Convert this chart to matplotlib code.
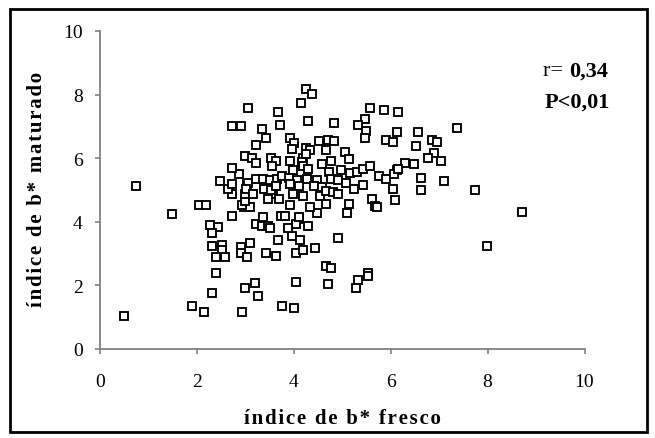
import matplotlib
matplotlib.use("Agg")
import matplotlib.pyplot as plt
from matplotlib.patches import Rectangle

# Data (índice de b* fresco, índice de b* maturado)
fresco = [
    0.50, 0.75, 1.49, 1.90, 2.15, 2.32, 2.40, 2.94, 3.00, 3.19, 3.27, 3.76, 4.01, 4.05,
    4.71, 4.67, 4.76, 5.33, 5.29, 5.54, 5.54, 4.92, 7.98, 8.72, 7.73, 2.04, 2.19, 2.73,
    2.28, 2.43, 2.32, 2.32, 2.52, 2.52, 2.40, 2.57, 2.90, 2.90, 3.03, 3.09, 3.43, 3.64,
    4.05, 4.18, 4.43, 3.96, 4.12, 3.68, 3.36, 3.23, 3.34, 3.46, 3.50, 4.10, 4.05, 3.89,
    4.30, 3.36, 3.74, 3.82, 4.10, 4.48, 5.09, 2.98, 3.10, 2.94, 3.00, 3.00, 2.73, 2.65,
    2.73, 2.48, 3.03, 2.86, 2.73, 3.00, 2.73, 2.90, 3.06,
    4.26, 4.38, 4.14, 3.68, 5.58, 5.87, 6.16, 4.30, 4.84, 3.72, 5.46, 5.33, 5.50, 5.46,
    3.35, 3.43, 6.12, 5.91, 6.04, 3.23, 3.93, 4.00, 3.97, 4.51, 4.71, 4.84, 4.26, 4.34,
    4.67, 5.05, 5.13, 3.14, 3.23, 3.52, 3.64, 3.56, 4.19, 4.26, 4.16, 3.93, 4.59, 4.76,
    3.98, 4.19, 4.30, 4.73, 4.98, 5.15, 5.31, 5.43, 5.57, 5.75, 5.91, 6.12, 6.06, 3.06,
    3.23, 3.36, 3.50, 3.65, 3.76, 3.90, 4.07, 4.27, 4.47, 4.76, 4.92, 5.07, 3.93, 4.11,
    4.41, 4.58, 5.42, 5.25, 6.04, 3.02, 3.16, 3.38, 3.57, 3.69, 3.98, 4.20, 4.54, 4.67,
    4.80, 4.92, 3.93, 4.34, 4.67, 5.13, 5.62, 5.67, 5.71, 6.08, 3.52, 3.64, 3.46,
    7.36, 6.57, 6.53, 6.86, 6.96, 6.90, 6.78, 7.03, 6.29, 6.49, 6.16, 6.62, 7.11, 6.62,
]
maturado = [
    1.05, 5.14, 4.25, 1.36, 1.17, 1.75, 2.39, 1.17, 1.93, 2.08, 1.68, 1.36, 1.30, 2.12,
    2.05, 2.62, 2.56, 2.18, 1.93, 2.39, 2.30, 3.50, 3.25, 4.32, 5.01, 4.53, 4.53, 4.19,
    3.90, 3.83, 3.65, 3.25, 3.27, 3.12, 2.88, 2.88, 3.20, 3.02, 2.88, 3.32, 3.02, 2.93,
    3.02, 3.12, 3.19, 3.56, 3.44, 3.44, 4.09, 3.94, 3.88, 3.88, 3.81, 4.09, 3.94, 3.81,
    3.88, 4.15, 4.19, 4.19, 4.15, 4.28, 4.28, 4.46, 4.46, 4.53, 4.66, 4.87, 4.88, 5.03,
    5.20, 5.28, 5.20, 5.51, 5.70, 6.08, 7.02, 7.02, 7.59,
    8.18, 8.03, 7.74, 7.46, 7.59, 7.52, 7.46, 7.17, 7.11, 7.04, 7.23, 7.04, 6.86, 6.64,
    6.92, 6.64, 6.81, 6.58, 6.52, 6.42, 6.64, 6.48, 6.29, 6.54, 6.58, 6.54, 6.33, 6.27,
    6.27, 6.20, 5.97, 6.02, 5.85, 6.02, 5.91, 5.76, 6.02, 6.12, 5.87, 5.91, 5.83, 5.91,
    5.64, 5.74, 5.66, 5.58, 5.64, 5.53, 5.58, 5.66, 5.74, 5.45, 5.35, 5.62, 5.49, 5.23,
    5.35, 5.35, 5.30, 5.35, 5.45, 5.39, 5.30, 5.35, 5.30, 5.35, 5.30, 5.22, 5.18, 5.14,
    5.14, 5.09, 5.16, 5.03, 5.03, 5.03, 4.88, 5.03, 4.88, 4.72, 4.88, 4.82, 4.82, 4.97,
    4.93, 4.88, 4.53, 4.47, 4.57, 4.55, 4.72, 4.51, 4.45, 4.69, 5.00, 5.14, 4.72,
    6.96, 6.83, 6.39, 6.58, 6.52, 6.16, 6.02, 5.91, 5.85, 5.83, 5.66, 5.39, 5.28, 5.01,
]
x_ticks = [0, 2, 4, 6, 8, 10]
y_ticks = [0, 2, 4, 6, 8, 10]
x_label = "índice de b* fresco"
y_label = "índice de b* maturado"
r_value = "0,34"
p_text = "P<0,01"

W, H = 655, 439
plt.rcParams['font.family'] = ['Liberation Serif', 'DejaVu Serif']
fig = plt.figure(figsize=(W / 100, H / 100), dpi=100)

ax = fig.add_axes([100 / W, 1 - 350 / H, (584.5 - 100) / W, (350 - 32) / H])
ax.plot(fresco, maturado, linestyle='none', marker='s', markersize=5.4,
        markerfacecolor='white', markeredgecolor='black', markeredgewidth=1.35,
        clip_on=False, zorder=3)

ax.set_xlim(0, 10)
ax.set_ylim(0, 10)
ax.set_xticks(x_ticks)
ax.set_yticks(y_ticks)
ax.set_xticklabels([str(t) for t in x_ticks])
ax.set_yticklabels([str(t) for t in y_ticks])
for s in ['top', 'right']:
    ax.spines[s].set_visible(False)
for s in ['left', 'bottom']:
    ax.spines[s].set_color('#808080')
    ax.spines[s].set_linewidth(1.3)
ax.tick_params(axis='both', direction='out', length=3.6, width=1.2, color='#808080',
               labelsize=14, labelcolor='black')
ax.tick_params(axis='x', pad=14)
ax.tick_params(axis='y', pad=9)


def spaced(s):
    return "\u200a".join(s)


fig.text(342 / W, 1 - 419 / H, spaced(x_label), ha='center', va='center',
         fontsize=15, fontweight='bold')
fig.text(37 / W, 1 - 189 / H, spaced(y_label), ha='center', va='center', rotation=90,
         fontsize=15, fontweight='bold')

t_r = fig.text(543 / W, 1 - 72 / H, "r= ", ha='left', va='center', fontsize=16)
fig.canvas.draw()
bb = t_r.get_window_extent(renderer=fig.canvas.get_renderer())
fig.text(bb.x1 / W, 1 - 72 / H, r_value, ha='left', va='center', fontsize=16,
         fontweight='bold')
fig.text(545 / W, 1 - 103 / H, p_text, ha='left', va='center', fontsize=16,
         fontweight='bold')

fig.patches.append(Rectangle((10 / W, 1 - 433 / H), (647 - 10) / W, (433 - 10) / H,
                             transform=fig.transFigure, fill=False,
                             edgecolor='black', linewidth=2.0))

fig.savefig("out.png", dpi=100)
